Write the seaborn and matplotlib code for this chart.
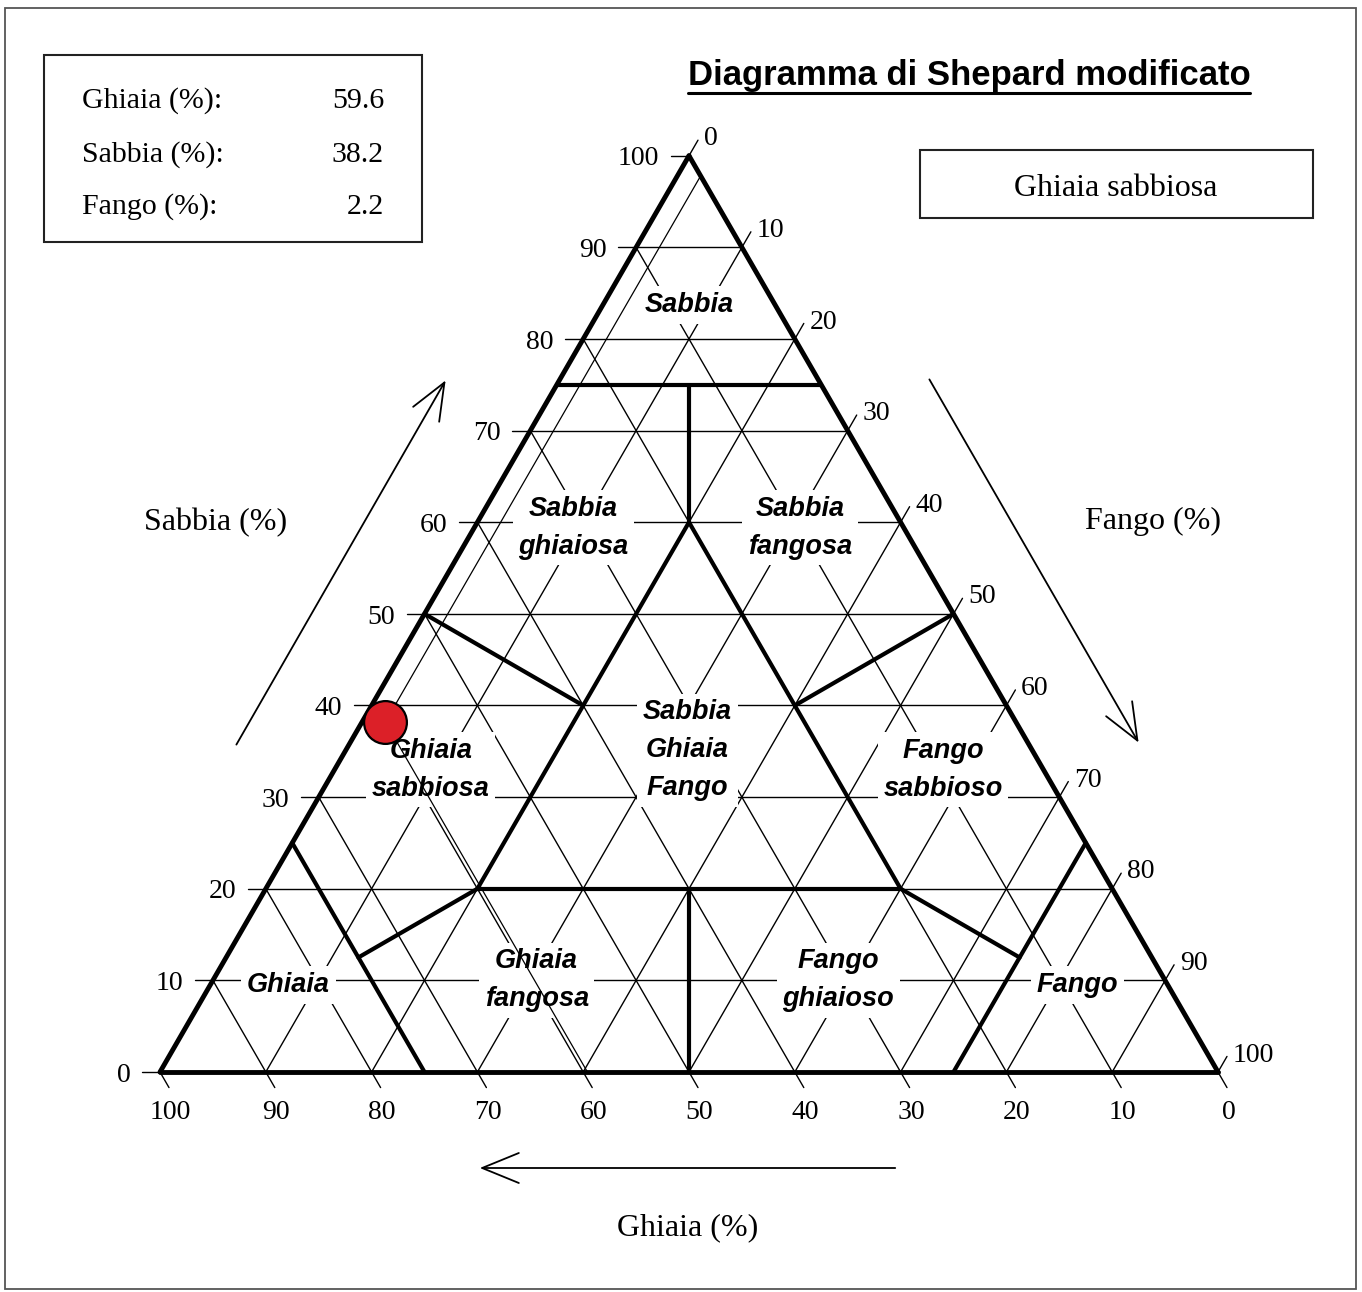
import numpy as np
import pandas as pd
import seaborn as sns
import matplotlib.pyplot as plt
from matplotlib.patches import Rectangle
from matplotlib.lines import Line2D

# sample composition (%)
ghiaia = 59.6
sabbia = 38.2
fango = 2.2
classe = "Ghiaia sabbiosa"

ticks = [0, 10, 20, 30, 40, 50, 60, 70, 80, 90, 100]

# triangle sides, as (ghiaia, sabbia, fango) corners
lati = [((0, 100, 0), (100, 0, 0)),
        ((100, 0, 0), (0, 0, 100)),
        ((0, 0, 100), (0, 100, 0))]

# Shepard (modified) class boundaries, each segment as (ghiaia, sabbia, fango) -> (ghiaia, sabbia, fango)
bordi = [
    ((25, 75, 0), (0, 75, 25)),
    ((12.5, 75, 12.5), (20, 60, 20)),
    ((20, 60, 20), (60, 20, 20)),
    ((60, 20, 20), (20, 20, 60)),
    ((20, 20, 60), (20, 60, 20)),
    ((50, 50, 0), (40, 40, 20)),
    ((0, 50, 50), (20, 40, 40)),
    ((75, 25, 0), (75, 0, 25)),
    ((0, 25, 75), (25, 0, 75)),
    ((75, 12.5, 12.5), (60, 20, 20)),
    ((12.5, 12.5, 75), (20, 20, 60)),
    ((40, 20, 40), (50, 0, 50)),
]

# class names and their label position (fango, sabbia)
classi = ["Sabbia", "Sabbia\nghiaiosa", "Sabbia\nfangosa", "Ghiaia\nsabbiosa",
          "Sabbia\nGhiaia\nFango", "Fango\nsabbioso", "Ghiaia", "Ghiaia\nfangosa",
          "Fango\nghiaioso", "Fango"]
classi_fango = [8.2, 9.4, 30.8, 9.1, 32.3, 57.5, 7.4, 30.6, 59.1, 82.0]
classi_sabbia = [83.7, 59.4, 59.4, 33.0, 35.1, 33.0, 9.5, 10.0, 10.0, 9.5]

W, H = 1362, 1292
X0, Y0, SC = 160, 1072, 10.58  # triangle origin (px) and px per unit
R3 = np.sqrt(3) / 2


def xy(f, s):
    return f + s / 2, s * R3


def fpos(px, py):
    return px / W, 1 - py / H


def segmenti(segs):
    rows = []
    for k, (a, b) in enumerate(segs):
        for g, s, f in (a, b):
            x, y = xy(f, s)
            rows.append((k, x, y))
    return pd.DataFrame(rows, columns=['id', 'x', 'y'])


sns.set_style("white")
plt.rcParams['font.family'] = ['Liberation Serif', 'DejaVu Serif']
plt.rcParams['text.color'] = 'black'

fig = plt.figure(figsize=(W / 100, H / 100), dpi=100)
ax = fig.add_axes([0, 0, 1, 1])
ax.set_xlim(-X0 / SC, (W - X0) / SC)
ax.set_ylim((Y0 - H) / SC, Y0 / SC)
ax.axis('off')

# thin grid: constant sabbia / fango / ghiaia lines, with tick extensions
ext = 1.7
rows = []
for i, v in enumerate(ticks):
    # sabbia: horizontal, tick to the left
    xa, ya = xy(0, v)
    xb, yb = xy(100 - v, v)
    rows += [(f's{i}', xa - ext, ya), (f's{i}', xb, yb)]
    # fango: parallel to left side, tick up-right past right side
    xa, ya = xy(v, 0)
    xb, yb = xy(v, 100 - v)
    rows += [(f'f{i}', xa, ya), (f'f{i}', xb + ext * 0.5, yb + ext * R3)]
    # ghiaia: parallel to right side, tick down-right below base
    xa, ya = xy(0, 100 - v)
    xb, yb = xy(100 - v, 0)
    rows += [(f'g{i}', xa, ya), (f'g{i}', xb + ext * 0.5, yb - ext * R3)]
grid = pd.DataFrame(rows, columns=['id', 'x', 'y'])
sns.lineplot(data=grid, x='x', y='y', units='id', estimator=None, sort=False,
             color='black', lw=1.0, ax=ax, zorder=1)

# thick class boundaries and triangle
sns.lineplot(data=segmenti(bordi), x='x', y='y', units='id', estimator=None, sort=False,
             color='black', lw=3.0, ax=ax, zorder=2)
sns.lineplot(data=segmenti(lati), x='x', y='y', units='id', estimator=None, sort=False,
             color='black', lw=3.5, ax=ax, zorder=2)

# tick labels
for v in ticks:
    x, y = xy(0, v)
    ax.text(x - 2.8, y - 0.3, str(v), ha='right', va='center', fontsize=20)
    x, y = xy(v, 100 - v)
    ax.text(x + 1.4, y + 1.6, str(v), ha='left', va='center', fontsize=20)
    x, y = xy(100 - v, 0)
    ax.text(x + 1.0, y - 3.8, str(v), ha='center', va='center', fontsize=20)

# class labels
for name, f, s in zip(classi, classi_fango, classi_sabbia):
    x, y = xy(f, s)
    ax.text(x, y, name, ha='center', va='center', fontsize=19.5,
            family=['Liberation Sans', 'DejaVu Sans'], weight='bold', style='italic',
            linespacing=1.6, zorder=3,
            bbox=dict(facecolor='white', edgecolor='none', pad=4))

# reading lines of the sample
px, py = xy(fango, sabbia)
lx, ly = xy(100 - ghiaia, 0)
ax.plot([px, lx], [py, ly], color='black', lw=0.9, zorder=4)
fx, fy = xy(fango, 100 - fango)
ax.plot([px, fx], [py, fy], color='black', lw=0.9, zorder=4)
sx, sy = xy(0, sabbia)
ax.plot([px, sx], [py, sy], color='black', lw=0.9, zorder=4)

sns.scatterplot(x=[px], y=[py], s=950, color='#dc2028', edgecolor='black',
                linewidth=1.6, ax=ax, zorder=5)

# axis arrows and names
arr = dict(arrowstyle='->,head_length=1.1,head_width=0.45', color='black', lw=1.3,
           mutation_scale=24)
ax.annotate('', xy=((447 - X0) / SC, (Y0 - 378) / SC), xytext=((235 - X0) / SC, (Y0 - 747) / SC),
            arrowprops=arr)
ax.annotate('', xy=((1140 - X0) / SC, (Y0 - 745) / SC), xytext=((928 - X0) / SC, (Y0 - 377) / SC),
            arrowprops=arr)
ax.annotate('', xy=((477 - X0) / SC, (Y0 - 1168) / SC), xytext=((898 - X0) / SC, (Y0 - 1168) / SC),
            arrowprops=arr)
fig.text(*fpos(216, 523), 'Sabbia (%)', ha='center', va='center', fontsize=23)
fig.text(*fpos(1153, 521), 'Fango (%)', ha='center', va='center', fontsize=23)
fig.text(*fpos(688, 1228), 'Ghiaia (%)', ha='center', va='center', fontsize=23)

# title (underlined)
title = fig.text(*fpos(969, 75), 'Diagramma di Shepard modificato', ha='center', va='center',
                 fontsize=25, weight='bold', family=['Liberation Sans', 'DejaVu Sans'])
fig.canvas.draw()
bb = title.get_window_extent()
fig.add_artist(Line2D([bb.x0 / W, bb.x1 / W], [(bb.y0 - 1) / H, (bb.y0 - 1) / H],
                      color='black', lw=2.2))

# value box
x0, y1 = fpos(44, 55)
x1, y0 = fpos(422, 242)
fig.add_artist(Rectangle((x0, y0), x1 - x0, y1 - y0, transform=fig.transFigure,
                         fill=False, edgecolor='#222222', lw=1.5))
for nome, val, yy in [('Ghiaia (%):', ghiaia, 101), ('Sabbia (%):', sabbia, 155), ('Fango (%):', fango, 207)]:
    fig.text(*fpos(82, yy), nome, ha='left', va='center', fontsize=21.5)
    fig.text(*fpos(384, yy), f'{val:.1f}', ha='right', va='center', fontsize=21.5)

# class box
x0, y1 = fpos(920, 150)
x1, y0 = fpos(1313, 218)
fig.add_artist(Rectangle((x0, y0), x1 - x0, y1 - y0, transform=fig.transFigure,
                         fill=False, edgecolor='#222222', lw=1.5))
fig.text(*fpos(1116, 188), classe, ha='center', va='center', fontsize=23)

# outer frame
x0, y1 = fpos(5, 8)
x1, y0 = fpos(1356, 1289)
fig.add_artist(Rectangle((x0, y0), x1 - x0, y1 - y0, transform=fig.transFigure,
                         fill=False, edgecolor='#555555', lw=1.3))

fig.savefig('out.png', dpi=100)
